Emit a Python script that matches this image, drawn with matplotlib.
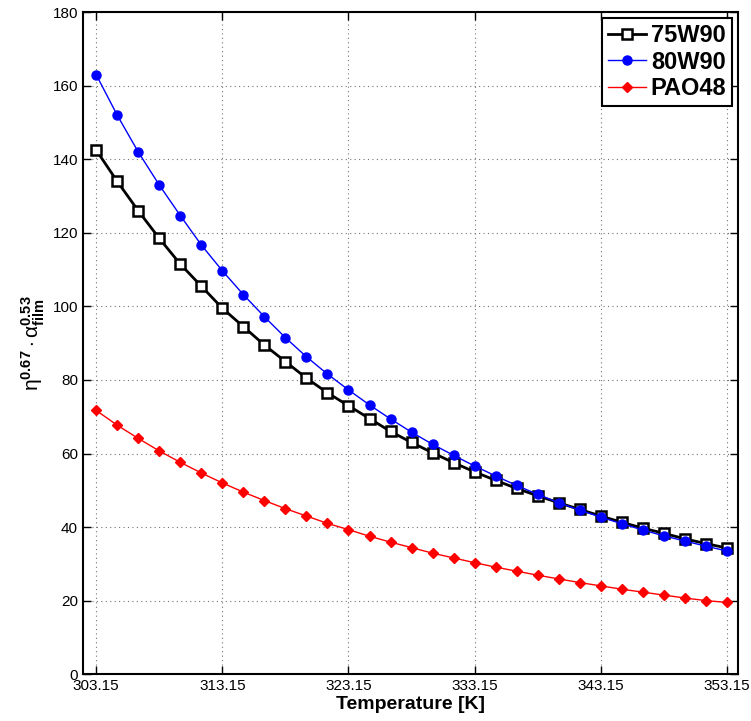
import numpy as np
import matplotlib.pyplot as plt

plt.rcParams['font.family'] = ['Liberation Sans', 'DejaVu Sans']
plt.rcParams['mathtext.fontset'] = 'custom'
plt.rcParams['mathtext.rm'] = 'Liberation Sans'
plt.rcParams['mathtext.it'] = 'Liberation Sans:italic'
plt.rcParams['mathtext.bf'] = 'Liberation Sans:bold'

# temperature steps of 5/3 K from 303.15 to 353.15
temperature = np.linspace(303.15, 353.15, 31)

oil_75w90 = [142.5, 134.0, 126.0, 118.5, 111.5, 105.5, 99.5, 94.5, 89.5, 85.0,
             80.5, 76.5, 73.0, 69.5, 66.0, 63.0, 60.2, 57.5, 55.0, 52.7,
             50.5, 48.5, 46.6, 44.8, 43.0, 41.3, 39.7, 38.3, 36.8, 35.5, 34.3]
oil_80w90 = [163.0, 152.0, 142.0, 133.0, 124.7, 116.7, 109.7, 103.2, 97.2, 91.5,
             86.3, 81.6, 77.3, 73.2, 69.4, 65.8, 62.5, 59.5, 56.6, 53.9,
             51.3, 48.9, 46.6, 44.6, 42.7, 40.9, 39.2, 37.6, 36.2, 34.8, 33.5]
oil_pao48 = [71.7, 67.7, 64.1, 60.7, 57.6, 54.7, 52.0, 49.5, 47.2, 45.0,
             43.0, 41.0, 39.3, 37.5, 35.9, 34.4, 32.9, 31.6, 30.3, 29.1,
             28.0, 26.9, 25.9, 24.9, 24.0, 23.1, 22.3, 21.5, 20.7, 20.0, 19.5]

xticks = [303.15, 313.15, 323.15, 333.15, 343.15, 353.15]

fig = plt.figure(figsize=(7.51, 7.21), dpi=100)
ax = fig.add_axes([0.1105, 0.065, 0.8725, 0.918])

ax.plot(temperature, oil_75w90, 'k-s', lw=2, ms=6.5, mfc='white', mew=1.8, label='75W90')
ax.plot(temperature, oil_80w90, 'b-o', lw=1, ms=6.5, label='80W90')
ax.plot(temperature, oil_pao48, 'r-D', lw=1, ms=5.5, label='PAO48')

ax.set_xlim(302.1, 354.05)
ax.set_ylim(0, 180)
ax.set_xticks(xticks)
ax.set_xticklabels(['%.2f' % t for t in xticks])
ax.set_yticks(np.arange(0, 181, 20))
ax.tick_params(direction='in', top=True, right=True, labelsize=11, length=6, width=1)
ax.grid(True, linestyle=(0, (1, 3)), color='0.45', linewidth=0.8)
for s in ax.spines.values():
    s.set_linewidth(1.5)

ax.set_xlabel('Temperature [K]', fontsize=14, fontweight='bold', labelpad=2)
ax.set_ylabel(r'$\mathrm{η}^{\mathbf{0.67}}\cdot\mathrm{α}_{\mathbf{film}}^{\mathbf{0.53}}$',
              fontsize=15, labelpad=4)

leg = ax.legend(loc='upper right', fancybox=False, prop={'weight': 'bold', 'size': 17},
                borderpad=0.25, labelspacing=0.15, handlelength=1.6, handletextpad=0.2,
                borderaxespad=0.25, framealpha=1)
leg.get_frame().set_edgecolor('black')
leg.get_frame().set_linewidth(1.5)

fig.savefig('out.png', dpi=100)
